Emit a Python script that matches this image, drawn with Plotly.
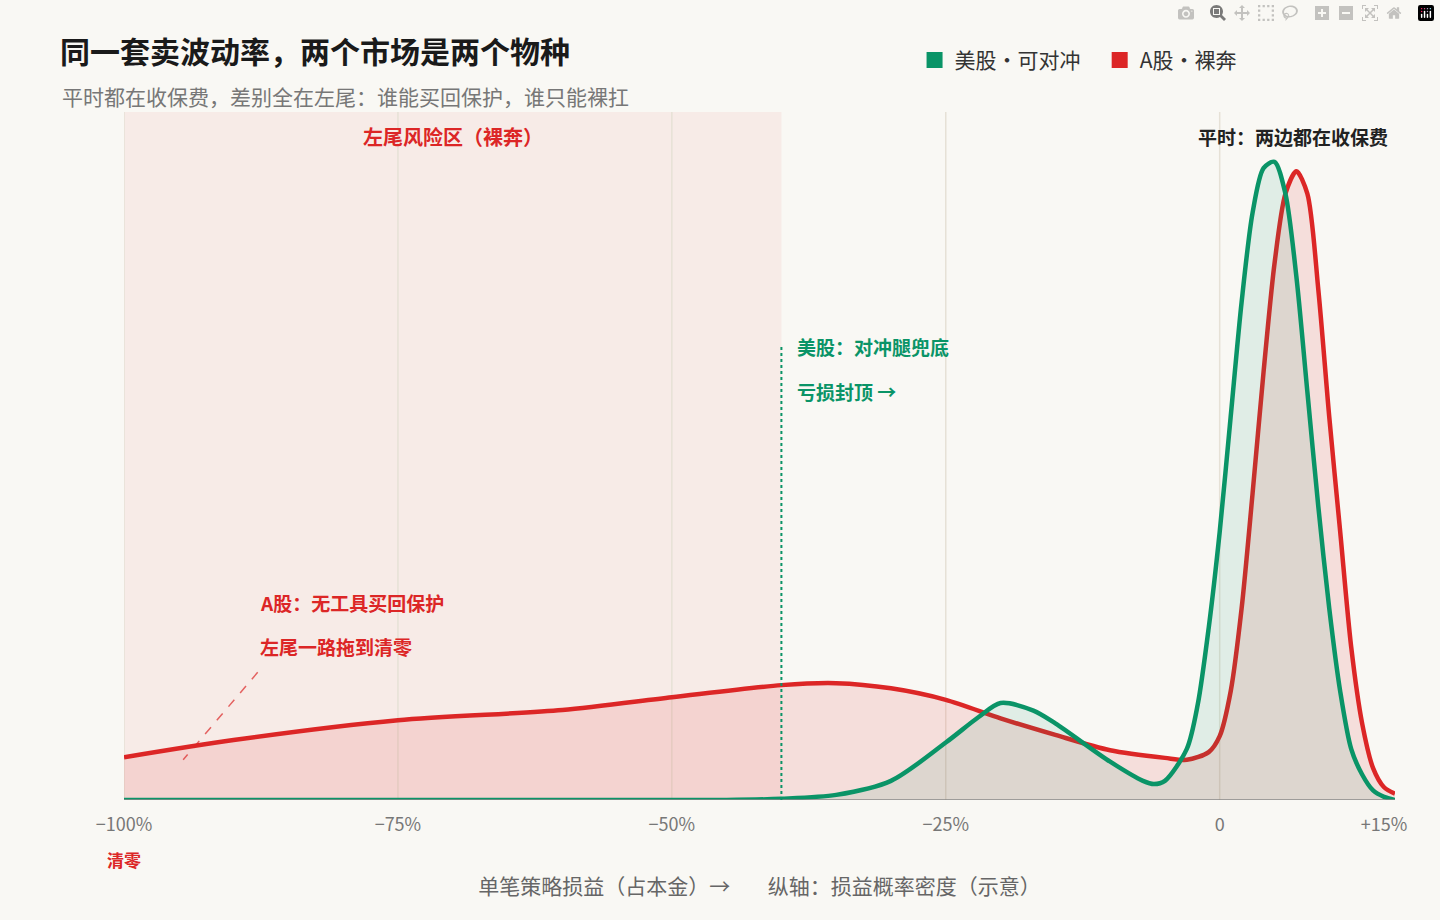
import plotly.graph_objects as go

# 损益（%）与示意密度
x_a = [-100, -90, -75, -60, -50, -40, -35, -30, -25, -20, -15, -10, -5, -3, -1, 0, 1, 2, 3, 4, 5, 6, 7, 8, 9, 10, 11, 12, 13, 14, 15, 16]
y_a = [0.067, 0.094, 0.125, 0.141, 0.161, 0.18, 0.183, 0.175, 0.157, 0.128, 0.102, 0.078, 0.066, 0.063, 0.075, 0.10, 0.17, 0.30, 0.48, 0.67, 0.84, 0.95, 0.985, 0.95, 0.80, 0.60, 0.42, 0.24, 0.12, 0.05, 0.02, 0.01]

x_us = [-100, -60, -45, -40, -35, -30, -25, -22, -20, -17, -15, -10, -7, -6, -5, -3, -2, -1, 0, 1, 2, 3, 4, 5, 6, 7, 8, 9, 10, 11, 12, 13, 14, 15, 16]
y_us = [0, 0, 0, 0.002, 0.008, 0.03, 0.09, 0.13, 0.152, 0.14, 0.12, 0.06, 0.03, 0.025, 0.03, 0.08, 0.15, 0.27, 0.42, 0.6, 0.78, 0.92, 0.99, 1.0, 0.95, 0.82, 0.64, 0.46, 0.3, 0.17, 0.08, 0.04, 0.015, 0.005, 0]

tick_vals = [-100, -75, -50, -25, 0, 15]
tick_text = ["−100%", "−75%", "−50%", "−25%", "0", "+15%"]

GREEN = "#0a9467"
RED = "#dc2626"
FONT = "Noto Sans CJK SC"

fig = go.Figure()

fig.add_vrect(x0=-100, x1=-40, fillcolor="rgba(220,38,38,0.06)", line_width=0, layer="below")
for v in [-100, -75, -50, -25, 0]:
    fig.add_vline(x=v, line=dict(color="#e6e1d6", width=1.5), layer="below")

fig.add_trace(go.Scatter(x=x_a, y=y_a, mode="lines", line=dict(color=RED, width=4.5, shape="spline", smoothing=0.8),
                         fill="tozeroy", fillcolor="rgba(220,38,38,0.12)", showlegend=False, hoverinfo="skip"))
fig.add_trace(go.Scatter(x=x_us, y=y_us, mode="lines", line=dict(color=GREEN, width=4.5, shape="spline", smoothing=0.8),
                         fill="tozeroy", fillcolor="rgba(10,148,103,0.10)", showlegend=False, hoverinfo="skip"))

# 图例用的方块
fig.add_trace(go.Scatter(x=[None], y=[None], mode="markers", name="美股·可对冲   ",
                         marker=dict(symbol="square", size=22, color=GREEN)))
fig.add_trace(go.Scatter(x=[None], y=[None], mode="markers", name="A股·裸奔",
                         marker=dict(symbol="square", size=22, color=RED)))

fig.add_shape(type="line", x0=-100, x1=16, y0=0, y1=0, line=dict(color="#888", width=1.5))
fig.add_shape(type="line", x0=-40, x1=-40, y0=0, y1=0.71, line=dict(color=GREEN, width=2, dash="dot"))
fig.add_shape(type="line", x0=-87.8, x1=-94.6, y0=0.2, y1=0.063, line=dict(color="rgba(220,38,38,0.7)", width=1.5, dash="dash"))

ann = [
    dict(x=-70, y=1.04, text="<b>左尾风险区（裸奔）</b>", color=RED, size=20, xanchor="center"),
    dict(x=-38.8, y=0.71, text="<b>美股：对冲腿兜底</b>", color=GREEN, size=19, xanchor="left"),
    dict(x=-38.8, y=0.64, text="<b>亏损封顶 →</b>", color=GREEN, size=19, xanchor="left"),
    dict(x=-87.8, y=0.31, text="<b>A股：无工具买回保护</b>", color=RED, size=19, xanchor="left"),
    dict(x=-87.8, y=0.24, text="<b>左尾一路拖到清零</b>", color=RED, size=19, xanchor="left"),
    dict(x=15.5, y=1.04, text="<b>平时：两边都在收保费</b>", color="#222", size=19, xanchor="right"),
]
for a in ann:
    fig.add_annotation(x=a["x"], y=a["y"], text=a["text"], showarrow=False, xanchor=a["xanchor"],
                       font=dict(family=FONT, size=a["size"], color=a["color"]))

fig.add_annotation(x=-100, xref="x", y=-0.065, yref="paper", text="<b>清零</b>", showarrow=False, yanchor="top",
                   font=dict(family=FONT, size=17, color=RED))
fig.add_annotation(x=60, xref="paper", xanchor="left", y=96, yref="paper", text="平时都在收保费，差别全在左尾：谁能买回保护，谁只能裸扛",
                   showarrow=False, font=dict(family=FONT, size=21, color="#777"))

fig.update_layout(
    autosize=True,
    paper_bgcolor="#f9f8f4", plot_bgcolor="#f9f8f4",
    margin=dict(l=124, r=45, t=112, b=120),
    font=dict(family=FONT, color="#555"),
    title=dict(text="<b>同一套卖波动率，两个市场是两个物种</b>", x=60 / 1440, y=1 - 52 / 920, xanchor="left", yanchor="middle",
               font=dict(family=FONT, size=30, color="#1a1a1a")),
    legend=dict(orientation="h", x=0.622, y=1.075, xanchor="left", yanchor="middle",
                font=dict(family=FONT, size=21, color="#333"), bgcolor="rgba(0,0,0,0)"),
    xaxis=dict(range=[-100, 16], tickvals=tick_vals, ticktext=tick_text, showgrid=False, zeroline=False,
               tickfont=dict(size=18, color="#777"), ticks="", ticklabelstandoff=12,
               title=dict(text="单笔策略损益（占本金）→        纵轴：损益概率密度（示意）",
                          font=dict(size=21, color="#666"), standoff=44)),
    yaxis=dict(range=[0, 1.078], showgrid=False, zeroline=False, showticklabels=False),
)
# 副标题放在标题下方（像素定位）
fig.layout.annotations[-1].update(x=60 / (1440 - 169) * 0 - 124 / (1440 - 169) + 60 / (1440 - 169),
                                  y=1 + (800 - 96) / (920 - 232) - 1, yanchor="middle")

fig.write_html("out.html", default_width="100%", default_height="100%",
               config={"responsive": True})
# 去掉页面边距
with open("out.html", encoding="utf-8") as f:
    html = f.read()
html = html.replace("<head>", "<head><style>html,body{margin:0;padding:0;height:100%;}</style>", 1)
with open("out.html", "w", encoding="utf-8") as f:
    f.write(html)
